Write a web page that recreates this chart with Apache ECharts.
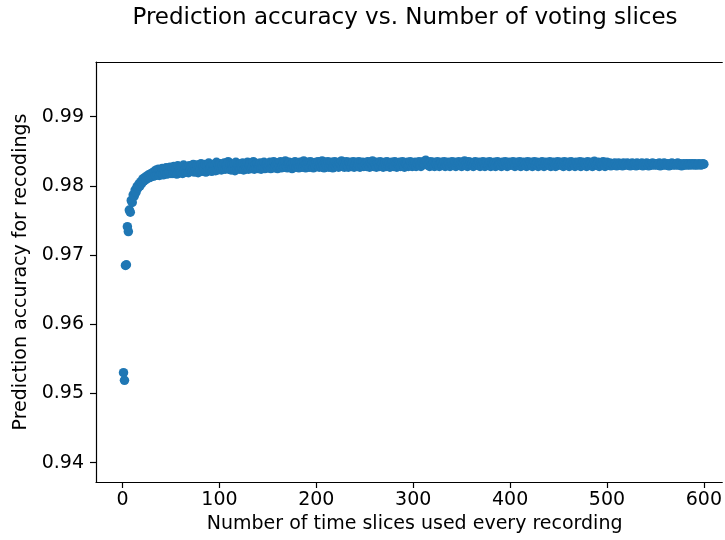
<!DOCTYPE html>
<html>
<head>
<meta charset="utf-8">
<script src="https://cdn.jsdelivr.net/npm/echarts@6/dist/echarts.min.js"></script>
<style>
  html, body { margin: 0; padding: 0; background: #ffffff; }
  #chart { width: 725px; height: 540px; }
</style>
</head>
<body>
<div id="chart"></div>
<script>
// Accuracy per number of voting slices, stored in units of 1e-5 (98312 -> 0.98312).
// Each array holds 50 consecutive slice counts.
const acc001 = [95300,95190,96850,96860,97410,97340,97650,97620,97790,97760,
  97870,97850,97940,97910,97990,97970,98030,98000,98060,98040,
  98100,98070,98120,98090,98140,98110,98160,98120,98170,98140,
  98190,98140,98210,98150,98230,98160,98240,98150,98230,98180,
  98250,98160,98240,98190,98260,98170,98250,98200,98270,98180];
const acc051 = [98260,98180,98280,98200,98240,98170,98290,98210,98250,98190,
  98270,98180,98300,98220,98260,98200,98280,98190,98290,98230,
  98270,98210,98310,98200,98260,98220,98300,98190,98280,98230,
  98320,98210,98270,98240,98310,98200,98290,98220,98330,98230,
  98280,98210,98310,98240,98290,98220,98340,98230,98300,98250];
const acc101 = [98320,98230,98300,98250,98330,98240,98290,98260,98350,98240,
  98310,98230,98300,98260,98320,98220,98340,98250,98300,98270,
  98240,98320,98260,98330,98230,98310,98270,98250,98340,98240,
  98300,98320,98250,98270,98350,98240,98310,98260,98320,98250,
  98300,98330,98240,98310,98270,98340,98250,98300,98320,98260];
const acc151 = [98300,98340,98250,98320,98270,98350,98260,98300,98330,98250,
  98320,98280,98350,98260,98300,98330,98270,98360,98280,98260,
  98320,98340,98270,98300,98250,98330,98280,98350,98270,98320,
  98300,98260,98340,98280,98330,98270,98360,98300,98260,98320,
  98280,98340,98270,98350,98300,98330,98260,98320,98280,98340];
const acc201 = [98300,98350,98270,98325,98280,98360,98300,98260,98340,98315,
  98280,98350,98270,98325,98300,98340,98260,98315,98350,98280,
  98325,98300,98270,98340,98315,98360,98280,98325,98270,98315,
  98350,98300,98270,98340,98315,98280,98325,98350,98270,98300,
  98340,98280,98315,98350,98270,98325,98300,98340,98280,98315];
const acc251 = [98325,98280,98350,98300,98270,98340,98315,98360,98280,98325,
  98300,98270,98340,98315,98280,98350,98300,98325,98270,98315,
  98340,98280,98350,98300,98325,98270,98315,98340,98300,98280,
  98350,98315,98270,98325,98300,98340,98280,98315,98350,98300,
  98270,98325,98315,98340,98280,98300,98350,98315,98280,98325];
const acc301 = [98300,98340,98280,98325,98315,98350,98300,98280,98340,98315,
  98325,98360,98370,98340,98300,98325,98280,98350,98315,98300,
  98340,98280,98325,98315,98350,98300,98280,98325,98340,98300,
  98315,98350,98280,98325,98300,98340,98315,98280,98325,98350,
  98300,98315,98340,98280,98325,98315,98350,98300,98325,98280];
const acc351 = [98340,98315,98360,98300,98325,98280,98350,98315,98340,98300,
  98325,98280,98315,98350,98300,98325,98315,98340,98280,98325,
  98300,98350,98315,98280,98325,98340,98300,98315,98350,98280,
  98325,98315,98300,98340,98280,98325,98350,98300,98315,98325,
  98280,98340,98315,98300,98350,98325,98280,98315,98340,98300];
const acc401 = [98325,98300,98350,98315,98280,98325,98340,98300,98315,98350,
  98280,98325,98315,98340,98300,98325,98280,98350,98315,98300,
  98340,98315,98280,98325,98350,98300,98315,98340,98280,98325,
  98315,98300,98350,98325,98280,98315,98340,98300,98325,98315,
  98350,98280,98325,98300,98340,98315,98280,98325,98350,98300];
const acc451 = [98315,98340,98300,98325,98280,98350,98315,98300,98325,98340,
  98280,98315,98350,98300,98325,98315,98280,98340,98315,98300,
  98325,98350,98280,98315,98340,98300,98325,98315,98280,98350,
  98315,98300,98325,98340,98280,98315,98355,98325,98300,98315,
  98340,98280,98325,98315,98300,98350,98315,98280,98325,98340];
const acc501 = [98310,98300,98330,98290,98320,98310,98300,98330,98320,98290,
  98310,98330,98300,98320,98310,98290,98330,98310,98300,98320,
  98330,98300,98310,98290,98320,98330,98300,98310,98320,98290,
  98330,98310,98300,98320,98310,98330,98290,98310,98320,98300,
  98330,98310,98290,98320,98310,98300,98330,98320,98300,98310];
const acc551 = [98320,98300,98310,98330,98290,98310,98320,98300,98330,98310,
  98300,98320,98310,98290,98320,98310,98330,98300,98310,98320,
  98300,98310,98330,98300,98320,98310,98290,98310,98320,98300,
  98310,98320,98300,98310,98320,98300,98310,98320,98310,98300,
  98320,98310,98300,98310,98320,98310,98300,98310,98320,98313];

const xTicks = [0, 100, 200, 300, 400, 500, 600];
const yTicks = [0.94, 0.95, 0.96, 0.97, 0.98, 0.99];

const titleText = 'Prediction accuracy vs. Number of voting slices';
const xName = 'Number of time slices used every recording';
const yName = 'Prediction accuracy for recodings';

// (slices, accuracy) pairs; slice counts run 1..600
const accuracy = [].concat(acc001, acc051, acc101, acc151, acc201, acc251,
  acc301, acc351, acc401, acc451, acc501, acc551);
const points = accuracy.map((v, i) => [i + 1, v / 1e5]);

const FONT = '"DejaVu Sans", "Liberation Sans", sans-serif';
const INK = '#000000';
const BLUE = '#1f77b4';
const FS = 19;

// plot area runs to the page's right edge; the right spine falls outside it
const gridLeft = 96, gridTop = 62, gridWidth = 629, gridHeight = 420;
const xMin = -27.4, xMax = 619.0;
const yMin = 0.9372, yMax = 0.9979;

const spine = { show: true, onZero: false, lineStyle: { color: INK, width: 1.2 } };

const chart = echarts.init(document.getElementById('chart'), null, { renderer: 'canvas' });

chart.setOption({
  animation: false,
  backgroundColor: '#ffffff',
  graphic: [{
    type: 'text',
    x: 405,
    y: 18,
    style: {
      text: titleText,
      fill: INK,
      font: '23px ' + FONT,
      textAlign: 'center',
      textVerticalAlign: 'middle'
    }
  }],
  grid: { left: gridLeft, top: gridTop, width: gridWidth, height: gridHeight, show: false },
  xAxis: [{
    type: 'value',
    min: xMin, max: xMax,
    name: xName,
    nameLocation: 'middle',
    nameGap: 33,
    // centred on the full frame, which extends past the page edge
    nameTextStyle: { fontFamily: FONT, fontSize: FS, color: INK, padding: [0, 0, 0, 11] },
    axisLine: spine,
    axisTick: { show: true, inside: false, length: 6, lineStyle: { color: INK, width: 1.2 }, customValues: xTicks },
    axisLabel: { fontFamily: FONT, fontSize: FS, color: INK, margin: 9, customValues: xTicks },
    splitLine: { show: false }
  }, {
    // top spine only
    type: 'value',
    position: 'top',
    min: xMin, max: xMax,
    axisLine: spine,
    axisTick: { show: false },
    axisLabel: { show: false },
    splitLine: { show: false }
  }],
  yAxis: {
    type: 'value',
    min: yMin, max: yMax,
    name: yName,
    nameLocation: 'middle',
    nameGap: 63,
    nameRotate: 90,
    nameTextStyle: { fontFamily: FONT, fontSize: FS, color: INK },
    axisLine: spine,
    axisTick: { show: true, inside: false, length: 6, lineStyle: { color: INK, width: 1.2 }, customValues: yTicks },
    axisLabel: {
      fontFamily: FONT, fontSize: FS, color: INK, margin: 12, customValues: yTicks,
      formatter: v => v.toFixed(2)
    },
    splitLine: { show: false }
  },
  series: [{
    type: 'scatter',
    data: points,
    symbol: 'circle',
    symbolSize: 9.5,
    itemStyle: { color: BLUE, opacity: 1 },
    emphasis: { disabled: true }
  }]
});
</script>
</body>
</html>
